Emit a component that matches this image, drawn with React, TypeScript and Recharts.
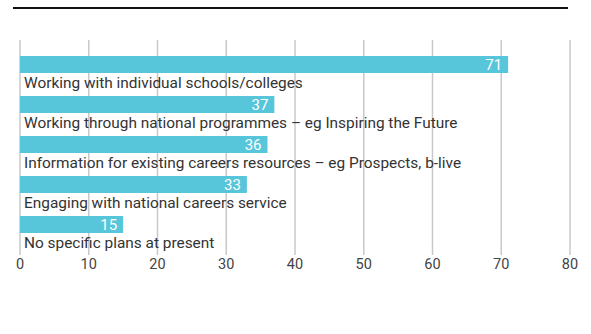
import React from "react";
import { BarChart, Bar, XAxis, YAxis, CartesianGrid, LabelList } from "recharts";

const categories = [
  "Working with individual schools/colleges",
  "Working through national programmes – eg Inspiring the Future",
  "Information for existing careers resources – eg Prospects, b-live",
  "Engaging with national careers service",
  "No specific plans at present",
];
const values = [71, 37, 36, 33, 15];
const xTicks = [0, 10, 20, 30, 40, 50, 60, 70, 80];

const data = categories.map((name, i) => ({ name, value: values[i] }));

const FONT = "Roboto, 'Noto Sans', sans-serif";

const CategoryLabel = (props: any) => {
  const { y, height, value } = props;
  const plotLeft = 20;
  return (
    <text
      x={plotLeft + 4}
      y={Number(y) + Number(height) + 14.5}
      fill="#333"
      fontSize={15.4}
      fontFamily={FONT}
    >
      {value}
    </text>
  );
};

export default function App() {
  return (
    <div style={{ position: "absolute", left: 0, top: 0, width: 591, height: 334, background: "#fff" }}>
      <div
        style={{
          position: "absolute",
          left: 13,
          top: 7,
          width: 555,
          height: 0,
          borderTop: "2px solid #111",
        }}
      />
      <BarChart
        width={591}
        height={334}
        data={data}
        layout="vertical"
        margin={{ top: 40, right: 21, bottom: 49, left: 20 }}
      >
        <CartesianGrid horizontal={false} stroke="#c8c8c8" strokeWidth={1.5} />
        <XAxis
          type="number"
          domain={[0, 80]}
          ticks={xTicks}
          axisLine={false}
          tickLine={false}
          tickSize={4}
          tickMargin={0}
          height={30}
          tick={{ fill: "#444", fontSize: 14.5, fontFamily: FONT }}
          interval={0}
        />
        <YAxis type="category" dataKey="name" hide padding={{ top: 4, bottom: 11 }} />
        <Bar dataKey="value" fill="#58c6da" barSize={17} isAnimationActive={false}>
          <LabelList
            dataKey="value"
            position="insideRight"
            offset={6}
            fill="#fff"
            fontSize={15}
            fontFamily={FONT}
          />
          <LabelList dataKey="name" content={CategoryLabel} />
        </Bar>
      </BarChart>
    </div>
  );
}
